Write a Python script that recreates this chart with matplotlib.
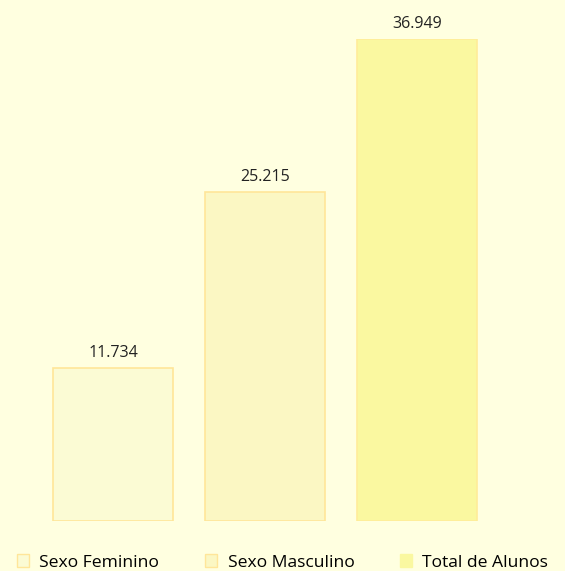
import matplotlib.pyplot as plt
from matplotlib.patches import Patch

categories = ['Sexo Feminino', 'Sexo Masculino', 'Total de Alunos']
values = [11734, 25215, 36949]
labels = ['11.734', '25.215', '36.949']

bg = '#FFFFE0'
fills = ['#FBFBD4', '#FBF7C3', '#FAF8A0']
edges = ['#FFE699', '#FFE699', '#FFEC99']

plt.rcParams['font.family'] = ['Open Sans', 'DejaVu Sans']

fig = plt.figure(figsize=(5.65, 5.71), dpi=100, facecolor=bg)
ax = fig.add_axes([37 / 565, 50 / 571, 456 / 565, 482 / 571])
ax.set_facecolor(bg)

x = range(len(values))
ax.bar(x, values, width=120 / 152, color=fills, edgecolor=edges, linewidth=1.2)
for i, v in enumerate(values):
    ax.annotate(labels[i], (i, v), xytext=(0, 5), textcoords='offset points',
                ha='center', va='bottom', fontsize=11.5, color='#222222')

ax.set_xlim(-0.5, 2.5)
ax.set_ylim(0, max(values))
ax.axis('off')

handles = [Patch(facecolor=fills[i], edgecolor=edges[i] if i < 2 else fills[i], linewidth=1)
           for i in range(3)]
fig.legend(handles, categories, loc='lower center', bbox_to_anchor=(0.5, -0.027), ncol=3,
           frameon=False, fontsize=12.6, handlelength=0.7, handleheight=0.7,
           handletextpad=0.6, columnspacing=2.6)

fig.savefig('out.png', dpi=100, facecolor=bg)
